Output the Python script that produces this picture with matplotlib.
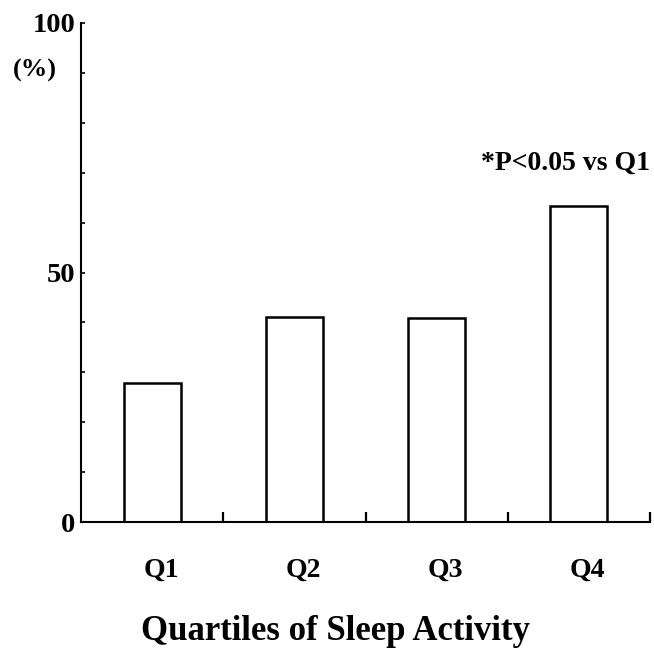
import matplotlib
matplotlib.use("Agg")
import matplotlib.pyplot as plt
import numpy as np

categories = ['Q1', 'Q2', 'Q3', 'Q4']
percent = [27.8, 41.0, 40.8, 63.3]
yticks_major = [0, 50, 100]
note = '*P<0.05 vs Q1'
xlabel = 'Quartiles of Sleep Activity'

plt.rcParams['font.family'] = ['Liberation Serif', 'DejaVu Serif']
plt.rcParams['font.weight'] = 'bold'

W, H = 654, 648
fig = plt.figure(figsize=(W / 100, H / 100), dpi=100)
ax = fig.add_axes([81 / W, (H - 522) / H, 569 / W, 499 / H])

x = np.arange(len(categories))
ax.bar(x, percent, width=0.40, color='white', edgecolor='black', linewidth=1.8)

ax.set_xlim(-0.5, 3.5)
ax.set_ylim(0, 100)
for side in ['top', 'right']:
    ax.spines[side].set_visible(False)
for side in ['left', 'bottom']:
    ax.spines[side].set_linewidth(1.5)

# x axis: tick marks between the groups, labels drawn as text
ax.set_xticks(x + 0.5)
ax.set_xticklabels([])
ax.tick_params(axis='x', direction='in', length=7, width=1.6)

ax.set_yticks(yticks_major)
ax.set_yticks(np.arange(0, 101, 10), minor=True)
ax.set_yticklabels([str(v) for v in yticks_major], fontsize=20.5, fontweight='bold')
ax.tick_params(axis='y', which='both', direction='in', length=3, width=1.2, pad=4)

for i, name in enumerate(categories):
    ax.text(i + 0.063, -0.096, name, transform=ax.get_xaxis_transform(),
            ha='center', va='center', fontsize=20, fontweight='bold')

ax.text(3.5, 70.6, note, ha='right', va='baseline', fontsize=20, fontweight='bold')

fig.text(35 / W, 1 - 70 / H, '(%)', ha='center', va='center', fontsize=19, fontweight='bold')
fig.text(335.5 / W, (H - 640) / H, xlabel, ha='center', va='baseline', fontsize=25, fontweight='bold')

fig.savefig('out.png', dpi=100)
